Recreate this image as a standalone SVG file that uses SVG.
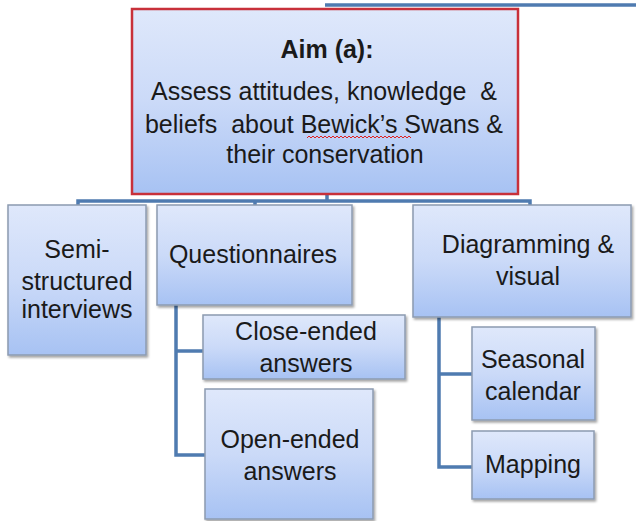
<svg xmlns="http://www.w3.org/2000/svg" width="636" height="521" viewBox="0 0 636 521">
<style>
.box{fill:url(#g);stroke:#8c9bb0;stroke-width:1.5;filter:url(#sh)}
.aim{fill:url(#g);stroke:#c8303a;stroke-width:2.5}
.con{fill:none;stroke:#4f7bb0;stroke-width:3.5;stroke-linejoin:miter}
text{font-family:"Liberation Sans",Arial,sans-serif;font-size:25px;fill:#1a1a1a;text-anchor:middle;white-space:pre}
.b{font-weight:bold}
</style>
<defs>
<linearGradient id="g" x1="0" y1="0" x2="0" y2="1">
<stop offset="0" stop-color="#dfe8fb"/>
<stop offset="0.5" stop-color="#cbdaf8"/>
<stop offset="1" stop-color="#a7c2f3"/>
</linearGradient>
<filter id="sh" x="-10%" y="-10%" width="130%" height="130%">
<feDropShadow dx="1.5" dy="2" stdDeviation="1.2" flood-color="#000" flood-opacity="0.35"/>
</filter>
</defs>
<g id="connectors">
<path class="con" d="M325 5 H636"/>
<path class="con" d="M78 206 V201 H530 V206 M255 201 V206 M327 195 V201"/>
<path class="con" d="M176 305 V455 H205 M176 351 H203"/>
<path class="con" d="M439 317 V467 H472 M439 374 H472"/>
</g>
<g id="aim">
<rect class="aim" x="132" y="9" width="386" height="185"/>
<text class="b" x="327" y="58">Aim (a):</text>
<text x="324" y="100" xml:space="preserve">Assess attitudes, knowledge  &amp;</text>
<text x="324" y="133" xml:space="preserve">beliefs  about Bewick’s Swans &amp;</text>
<text x="325" y="163">their conservation</text>
<path d="M307 138 l2 -2 l2 2 l2 -2 l2 2 l2 -2 l2 2 l2 -2 l2 2 l2 -2 l2 2 l2 -2 l2 2 l2 -2 l2 2 l2 -2 l2 2 l2 -2 l2 2 l2 -2 l2 2 l2 -2 l2 2 l2 -2 l2 2 l2 -2 l2 2 l2 -2 l2 2 l2 -2 l2 2 l2 -2 l2 2 l2 -2 l2 2 l2 -2 l2 2 l2 -2 l2 2 l2 -2 l2 2 l2 -2 l2 2 l2 -2 l2 2 l2 -2 l2 2 l2 -2 l2 2 l2 -2 l2 2 l2 -2 l2 2" fill="none" stroke="#e02020" stroke-width="1"/>
</g>
<g id="semi">
<rect class="box" x="8" y="205" width="138" height="150"/>
<text x="77" y="258">Semi-</text>
<text x="77" y="290">structured</text>
<text x="77" y="318">interviews</text>
</g>
<g id="questionnaires">
<rect class="box" x="157" y="205" width="195" height="100"/>
<text x="253" y="263">Questionnaires</text>
</g>
<g id="close">
<rect class="box" x="203" y="315" width="202" height="64"/>
<text x="306" y="340">Close-ended</text>
<text x="306" y="372">answers</text>
</g>
<g id="open">
<rect class="box" x="205" y="389" width="168" height="130"/>
<text x="290" y="448">Open-ended</text>
<text x="290" y="480">answers</text>
</g>
<g id="diagramming">
<rect class="box" x="413" y="205" width="218" height="112"/>
<text x="528" y="253">Diagramming &amp;</text>
<text x="528" y="285">visual</text>
</g>
<g id="seasonal">
<rect class="box" x="472" y="327" width="123" height="93"/>
<text x="533" y="368">Seasonal</text>
<text x="533" y="400">calendar</text>
</g>
<g id="mapping">
<rect class="box" x="472" y="431" width="122" height="68"/>
<text x="533" y="473">Mapping</text>
</g>
</svg>
